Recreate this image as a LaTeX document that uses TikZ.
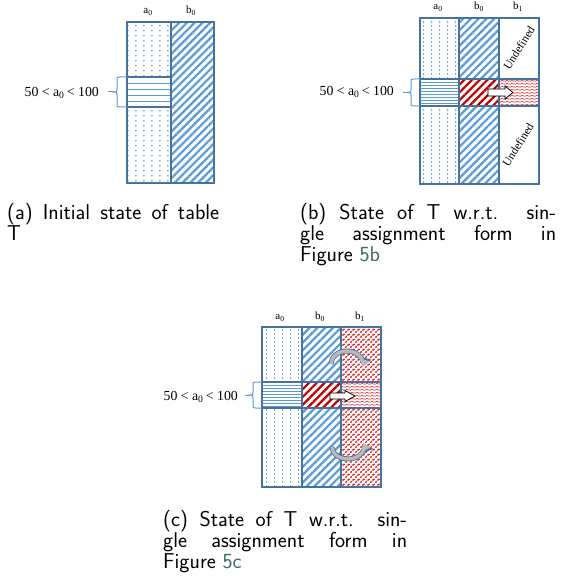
\documentclass[tikz,border=0pt]{standalone}
\usepackage{fontspec}
\setmainfont{Liberation Serif}
\usetikzlibrary{patterns,patterns.meta,arrows.meta}
\definecolor{hblue}{RGB}{91,155,213}
\definecolor{bord}{RGB}{70,114,160}
\definecolor{dotblue}{RGB}{120,172,225}
\definecolor{hred}{RGB}{192,0,0}
\definecolor{lred}{RGB}{225,40,40}
\definecolor{linkc}{RGB}{60,105,105}
\definecolor{arrgray}{RGB}{185,185,185}
\tikzdeclarepattern{name=adots, type=colored, bottom left={(0pt,0pt)}, top right={(8.3pt,5pt)}, tile size={(8.3pt,5pt)},
  code={\fill[dotblue] (3.5pt,2pt) rectangle (4.9pt,3.4pt);}}
\tikzdeclarepattern{name=vdash, type=colored, bottom left={(0pt,0pt)}, top right={(7.5pt,4pt)}, tile size={(7.5pt,4pt)},
  code={\fill[dotblue] (3.3pt,0pt) rectangle (4.4pt,2.3pt);}}
\tikzdeclarepattern{name=waves, type=colored, bottom left={(0pt,0pt)}, top right={(5pt,3pt)}, tile size={(5pt,3pt)},
  code={\draw[lred, line width=0.7pt] (0pt,0.8pt) .. controls (1.25pt,0.8pt) and (1.25pt,2.2pt) .. (2.5pt,2.2pt) .. controls (3.75pt,2.2pt) and (3.75pt,0.8pt) .. (5pt,0.8pt);}}
\tikzdeclarepattern{name=loops, type=colored, bottom left={(0pt,0pt)}, top right={(5pt,5pt)}, tile size={(5pt,5pt)},
  code={\draw[lred, line width=0.75pt, rotate around={-35:(1.25pt,1.25pt)}] (1.25pt,1.25pt) ellipse[x radius=0.6pt, y radius=1.05pt];
        \draw[lred, line width=0.75pt, rotate around={-35:(3.75pt,3.75pt)}] (3.75pt,3.75pt) ellipse[x radius=0.6pt, y radius=1.05pt];}}
\tikzset{
  bluehatch/.style={pattern={Lines[angle=45,distance=5.5pt,line width=2.2pt]}, pattern color=hblue},
  redhatch/.style={pattern={Lines[angle=45,distance=5.5pt,line width=2.2pt]}, pattern color=hred},
  gridline/.style={bord, line width=1.3pt},
  bandline/.style={hblue, line width=0.9pt},
  bracestyle/.style={hblue, line width=1pt},
  hdr/.style={font=\fontsize{11}{13}\selectfont, inner sep=0pt, anchor=base},
  lab/.style={font=\fontsize{13.8}{16}\selectfont, inner sep=0pt, anchor=base east},
  undef/.style={font=\fontsize{11.5}{13}\selectfont, inner sep=0pt, rotate=58},
  captxt/.style={font=\sffamily\fontsize{21.5}{25}\selectfont, inner sep=0pt, anchor=base west},
  blockarrow/.style={draw=black, fill=white, line width=0.8pt},
  curvearrow/.style={line width=3.4pt, arrgray, -{Triangle[length=7pt,width=10pt]},
     preaction={draw=bord, line width=5pt, -{Triangle[length=9pt,width=13pt]}}}
}
\begin{document}
\begin{tikzpicture}[x=1pt,y=-1pt]
\useasboundingbox (0,0) rectangle (560,583);
% ---------------- panel (a)
\fill[pattern=adots] (127,22) rectangle (171,77);
\fill[pattern=adots] (127,107) rectangle (171,183);
\foreach \yy in {83,89,95,101} \draw[bandline] (127,\yy) -- (171,\yy);
\fill[bluehatch] (171,22) rectangle (214,183);
\draw[gridline] (127,22) rectangle (214,183);
\draw[gridline] (171,22) -- (171,183);
\draw[gridline] (127,77) -- (171,77);
\draw[gridline] (127,107) -- (171,107);
\node[hdr] (ha0) at (148,14) {a\textsubscript{0}};
\node[hdr] (hb0) at (191,14) {b\textsubscript{0}};
\node[lab] (la) at (99,96.5) {50 < a\textsubscript{0}\,< 100};
\draw[bracestyle] (127,77) -- (120,77) .. controls (117,77) .. (117,80) -- (117,89) .. controls (117,92) .. (114,92) .. controls (117,92) .. (117,95) -- (117,104) .. controls (117,107) .. (120,107) -- (127,107);
\draw[bracestyle] (108,92) -- (114,92);
\node[captxt] (ca1) at (7,219) {\makebox[212pt][s]{(a) Initial state of table}};
\node[captxt] (ca2) at (7,240) {T};
% ---------------- panel (b)
\fill[pattern=vdash] (420,18) rectangle (459,79);
\fill[pattern=vdash] (420,106) rectangle (459,184);
\foreach \yy in {82,85,88,91,94,97,100,103} \draw[bandline] (420,\yy) -- (459,\yy);
\fill[bluehatch] (459,18) rectangle (499,79);
\fill[bluehatch] (459,106) rectangle (499,184);
\fill[redhatch] (459,79) rectangle (499,106);
\fill[pattern=waves] (499,79) rectangle (539,106);
\draw[gridline] (420,18) rectangle (539,184);
\draw[gridline] (459,18) -- (459,184);
\draw[gridline] (499,18) -- (499,184);
\draw[gridline] (420,79) -- (539,79);
\draw[gridline] (420,106) -- (539,106);
\node[hdr] (hba0) at (438,10) {a\textsubscript{0}};
\node[hdr] (hbb0) at (479,10) {b\textsubscript{0}};
\node[hdr] (hbb1) at (518,10) {b\textsubscript{1}};
\node[undef] (u1) at (519,48) {Undefined};
\node[undef] (u2) at (518,145) {Undefined};
\draw[blockarrow] (488,89) -- (505,89) -- (505,86) -- (513,92.5) -- (505,99) -- (505,96) -- (488,96) -- cycle;
\node[lab] (lb) at (394,95.7) {50 < a\textsubscript{0}\,< 100};
\draw[bracestyle] (420,79) -- (414,79) .. controls (411,79) .. (411,82) -- (411,89.5) .. controls (411,92.5) .. (408,92.5) .. controls (411,92.5) .. (411,95.5) -- (411,103) .. controls (411,106) .. (414,106) -- (420,106);
\draw[bracestyle] (403,92.5) -- (408,92.5);
\node[captxt] (cb1) at (300,219) {\makebox[256pt][s]{(b) State of T w.r.t. sin-}};
\node[captxt] (cb2) at (300,240) {\makebox[256pt][s]{gle assignment form in}};
\node[captxt] (cb3) at (300,261) {Figure \textcolor{linkc}{5b}};
% ---------------- panel (c)
\fill[pattern=vdash] (262,327) rectangle (302,382);
\fill[pattern=vdash] (262,408) rectangle (302,487);
\foreach \yy in {385,388,391,394,397,400,403,406} \draw[bandline] (262,\yy) -- (302,\yy);
\fill[bluehatch] (302,327) rectangle (341,382);
\fill[bluehatch] (302,408) rectangle (341,487);
\fill[redhatch] (302,382) rectangle (341,408);
\fill[pattern=loops] (341,327) rectangle (381,382);
\fill[pattern=loops] (341,408) rectangle (381,487);
\fill[pattern=waves] (341,382) rectangle (381,408);
\draw[gridline] (262,327) rectangle (381,487);
\draw[gridline] (302,327) -- (302,487);
\draw[gridline] (341,327) -- (341,487);
\draw[gridline] (262,382) -- (381,382);
\draw[gridline] (262,408) -- (381,408);
\node[hdr] (hca0) at (280,319.5) {a\textsubscript{0}};
\node[hdr] (hcb0) at (320,319.5) {b\textsubscript{0}};
\node[hdr] (hcb1) at (360,319.5) {b\textsubscript{1}};
\draw[blockarrow] (330,393) -- (345,393) -- (345,390.5) -- (355,396) -- (345,401.5) -- (345,399) -- (330,399) -- cycle;
\draw[curvearrow] (331,364) arc[start angle=180, end angle=372, x radius=16, y radius=13];
\draw[curvearrow] (332,447) arc[start angle=180, end angle=-18, x radius=16, y radius=12];
\node[lab] (lc) at (238,400) {50 < a\textsubscript{0}\,< 100};
\draw[bracestyle] (262,382) -- (256,382) .. controls (253,382) .. (253,385) -- (253,392) .. controls (253,395) .. (250,395) .. controls (253,395) .. (253,398) -- (253,405) .. controls (253,408) .. (256,408) -- (262,408);
\draw[bracestyle] (245,395) -- (250,395);
\node[captxt] (cc1) at (163,526) {\makebox[244pt][s]{(c) State of T w.r.t. sin-}};
\node[captxt] (cc2) at (163,547) {\makebox[244pt][s]{gle assignment form in}};
\node[captxt] (cc3) at (163,568) {Figure \textcolor{linkc}{5c}};
\end{tikzpicture}
\end{document}
